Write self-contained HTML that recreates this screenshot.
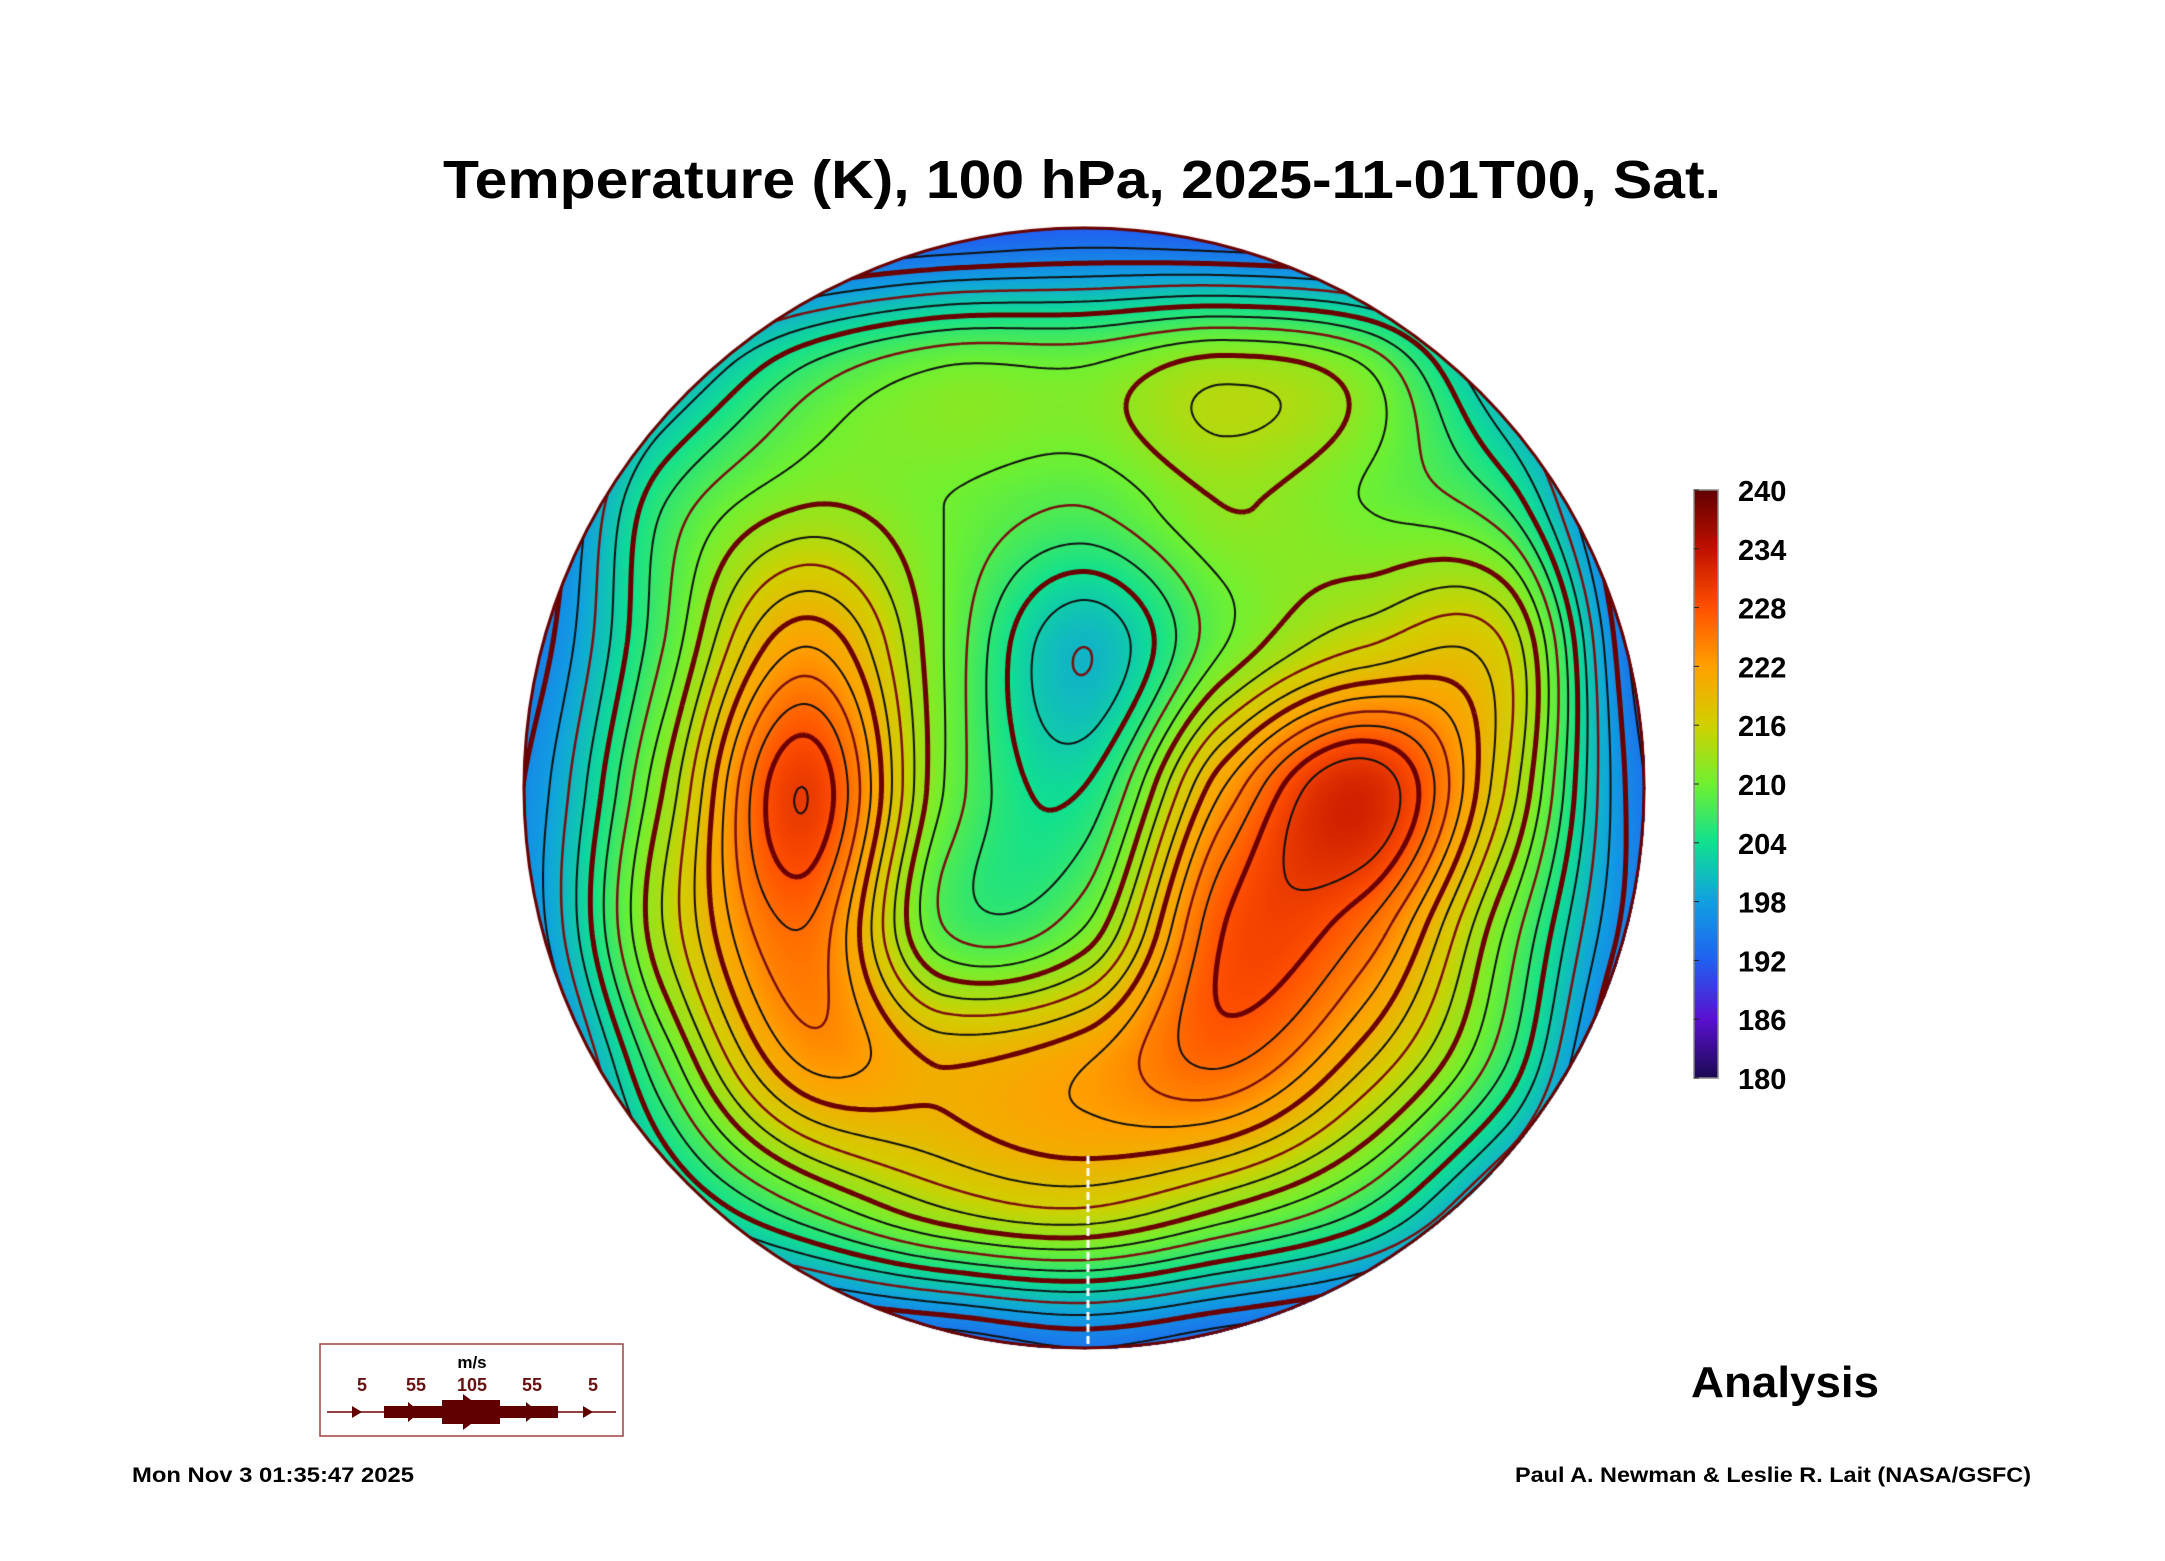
<!DOCTYPE html>
<html><head><meta charset="utf-8">
<style>
html,body{margin:0;padding:0;background:#fff;}
body{width:2165px;height:1561px;position:relative;overflow:hidden;font-family:"Liberation Sans",sans-serif;}
.abs{position:absolute;}
</style></head>
<body>
<svg class="abs" style="left:0;top:0" width="2165" height="1561">
  <text x="1082" y="198" text-anchor="middle" font-size="54" font-weight="bold" textLength="1278" lengthAdjust="spacingAndGlyphs">Temperature (K), 100 hPa, 2025-11-01T00, Sat.</text>
  <text x="1785" y="1397" text-anchor="middle" font-size="44" font-weight="bold" textLength="188" lengthAdjust="spacingAndGlyphs">Analysis</text>
  <text x="132" y="1482" font-size="21" font-weight="bold" textLength="282" lengthAdjust="spacingAndGlyphs">Mon Nov  3 01:35:47 2025</text>
  <text x="2031" y="1482" text-anchor="end" font-size="21" font-weight="bold" textLength="516" lengthAdjust="spacingAndGlyphs">Paul A. Newman &amp; Leslie R. Lait (NASA/GSFC)</text>
  <g>
    <rect x="320" y="1344" width="303" height="92" fill="none" stroke="#a04040" stroke-width="1.5"/>
    <text x="472" y="1368" text-anchor="middle" font-size="17" font-weight="bold">m/s</text>
    <g font-size="18" font-weight="bold" fill="#6a1010" text-anchor="middle">
      <text x="362" y="1391">5</text><text x="416" y="1391">55</text><text x="472" y="1391">105</text><text x="532" y="1391">55</text><text x="593" y="1391">5</text>
    </g>
    <line x1="327" y1="1412" x2="616" y2="1412" stroke="#6a0000" stroke-width="1.5"/>
    <rect x="384" y="1406" width="174" height="12" fill="#600000"/>
    <rect x="442" y="1400" width="58" height="24" fill="#600000"/>
    <polygon points="463,1394 487,1412 463,1430" fill="#600000"/>
    <polygon points="352,1406 362,1412 352,1418" fill="#600000"/>
    <polygon points="583,1406 593,1412 583,1418" fill="#600000"/>
    <polygon points="408,1402 420,1412 408,1422" fill="#600000"/>
    <polygon points="526,1402 538,1412 526,1422" fill="#600000"/>
  </g>
  <defs><linearGradient id="cb" x1="0" y1="1" x2="0" y2="0">
    <stop offset="0" stop-color="#1a0a50"/><stop offset="0.1" stop-color="#5a10d0"/><stop offset="0.2" stop-color="#2060f0"/>
    <stop offset="0.3" stop-color="#10a0e0"/><stop offset="0.4" stop-color="#10e090"/><stop offset="0.5" stop-color="#70f030"/>
    <stop offset="0.6" stop-color="#d0d000"/><stop offset="0.7" stop-color="#ffa000"/><stop offset="0.8" stop-color="#ff5000"/>
    <stop offset="0.9" stop-color="#c01000"/><stop offset="1" stop-color="#600000"/></linearGradient></defs>
  <g>
    <rect x="1694" y="490" width="24" height="588" fill="url(#cb)" stroke="#888" stroke-width="1.5"/>
    <g id="cbticks" font-size="29" font-weight="bold"></g>
  </g>
</svg>
<canvas id="map" class="abs" style="left:522px;top:226px" width="1124" height="1124"></canvas>
<script>
const gridX0 = 523, gridY0 = 226, gridStep = 140.25;
const tempRow0 = [190,190,190,191,192,191,190,189,188];
const tempRow1 = [190,198,206,210,210,213,210,198,190];
const tempRow2 = [192,206,212,210,208,212,210,206,190];
const tempRow3 = [194,208,222,210,200,210,216,216,192];
const tempRow4 = [196,212,230,210,204,222,232,216,194];
const tempRow5 = [196,214,226,208,210,228,226,210,194];
const tempRow6 = [192,208,222,220,222,226,218,206,190];
const tempRow7 = [190,200,208,214,216,212,206,196,189];
const tempRow8 = [188,190,191,192,194,192,190,188,188];
const tempRows = [tempRow0,tempRow1,tempRow2,tempRow3,tempRow4,tempRow5,tempRow6,tempRow7,tempRow8];
const cbTicks = [180,186,192,198,204,210,216,222,228,234,240];
const contourLevels = [194,198,202,206,210,214,218,222,226,230,234];
const streamLevels = [196,204,212,220,228];
const cmapStops = [[180,26,10,80],[186,90,16,208],[192,32,96,240],[198,16,160,224],[204,16,224,144],[210,112,240,48],[216,208,208,0],[222,255,160,0],[228,255,80,0],[234,192,16,0],[240,96,0,0]];

const cbg = document.getElementById('cbticks');
const cbY = v => 1078 - (v-180)/60*588;
cbTicks.forEach(v=>{
  const t = document.createElementNS('http://www.w3.org/2000/svg','text');
  
  
  t.setAttribute('x',1738); t.setAttribute('y',cbY(v)+11); t.textContent=v; cbg.appendChild(t);
  const l = document.createElementNS('http://www.w3.org/2000/svg','line');
  
  
  l.setAttribute('x1',1694); l.setAttribute('x2',1699); l.setAttribute('y1',cbY(v)); l.setAttribute('y2',cbY(v)); l.setAttribute('stroke','#222'); cbg.appendChild(l);
});

function cr(p0,p1,p2,p3,t){return 0.5*((2*p1)+(-p0+p2)*t+(2*p0-5*p1+4*p2-p3)*t*t+(-p0+3*p1-3*p2+p3)*t*t*t);}
const N = tempRows.length;
function g(i,j){i=Math.max(0,Math.min(N-1,i));j=Math.max(0,Math.min(N-1,j));return tempRows[j][i];}
function field(x,y){
  const fx=(x-gridX0)/gridStep, fy=(y-gridY0)/gridStep;
  const i=Math.floor(fx), j=Math.floor(fy), tx=fx-i, ty=fy-j;
  const r=[];
  for(let k=-1;k<=2;k++) r.push(cr(g(i-1,j+k),g(i,j+k),g(i+1,j+k),g(i+2,j+k),tx));
  return cr(r[0],r[1],r[2],r[3],ty);
}
function cmap(v){
  if(v<=180) return cmapStops[0].slice(1);
  for(let k=1;k<cmapStops.length;k++){ if(v<=cmapStops[k][0]){const a=cmapStops[k-1],b=cmapStops[k],t=(v-a[0])/(b[0]-a[0]);return [a[1]+(b[1]-a[1])*t,a[2]+(b[2]-a[2])*t,a[3]+(b[3]-a[3])*t];}}
  return cmapStops[cmapStops.length-1].slice(1);
}
const cv=document.getElementById('map'), ctx=cv.getContext('2d');
const W=1124, cx=562, cy=562, R=561;
const img=ctx.createImageData(W,W);
const S=4, GW=Math.ceil(W/S)+1, F=new Float32Array(GW*GW);
for(let j=0;j<GW;j++)for(let i=0;i<GW;i++)F[j*GW+i]=field(522+i*S,226+j*S);
for(let y=0;y<W;y++)for(let x=0;x<W;x++){
  const dx=x-cx,dy=y-cy; if(dx*dx+dy*dy>R*R)continue;
  const gi=x/S,gj=y/S,i=Math.floor(gi),j=Math.floor(gj),tx=gi-i,ty=gj-j;
  const v=(F[j*GW+i]*(1-tx)+F[j*GW+i+1]*tx)*(1-ty)+(F[(j+1)*GW+i]*(1-tx)+F[(j+1)*GW+i+1]*tx)*ty;
  const c=cmap(v),p=(y*W+x)*4; img.data[p]=c[0];img.data[p+1]=c[1];img.data[p+2]=c[2];img.data[p+3]=255;
}
ctx.putImageData(img,0,0);
ctx.save();ctx.beginPath();ctx.arc(cx,cy,R,0,Math.PI*2);ctx.clip();
function contour(level,color,width){
  ctx.strokeStyle=color;ctx.lineWidth=width;ctx.beginPath();
  for(let j=0;j<GW-1;j++)for(let i=0;i<GW-1;i++){
    const a=F[j*GW+i],b=F[j*GW+i+1],c=F[(j+1)*GW+i+1],d=F[(j+1)*GW+i];
    const pts=[];
    const e=(v1,v2,x1,y1,x2,y2)=>{if((v1<level)!==(v2<level)){const t=(level-v1)/(v2-v1);pts.push([x1+(x2-x1)*t,y1+(y2-y1)*t]);}};
    const X=i*S,Y=j*S;
    e(a,b,X,Y,X+S,Y);e(b,c,X+S,Y,X+S,Y+S);e(c,d,X+S,Y+S,X,Y+S);e(d,a,X,Y+S,X,Y);
    for(let k=0;k+1<pts.length;k+=2){ctx.moveTo(pts[k][0],pts[k][1]);ctx.lineTo(pts[k+1][0],pts[k+1][1]);}
  }
  ctx.stroke();
}
contourLevels.forEach(l=>contour(l,'#111',2));
streamLevels.forEach(l=>contour(l,'#6a0000',5));
[200,208,216,224].forEach(l=>contour(l,'#7a1010',2.5));
ctx.restore();
ctx.strokeStyle='#fff';ctx.lineWidth=3;ctx.setLineDash([8,4]);
ctx.beginPath();ctx.moveTo(566,930);ctx.lineTo(566,1124);ctx.stroke();
ctx.strokeStyle='#6a0000';ctx.lineWidth=3;ctx.setLineDash([]);
ctx.beginPath();ctx.arc(cx,cy,R-1,0,Math.PI*2);ctx.stroke();
</script>
</body></html>
